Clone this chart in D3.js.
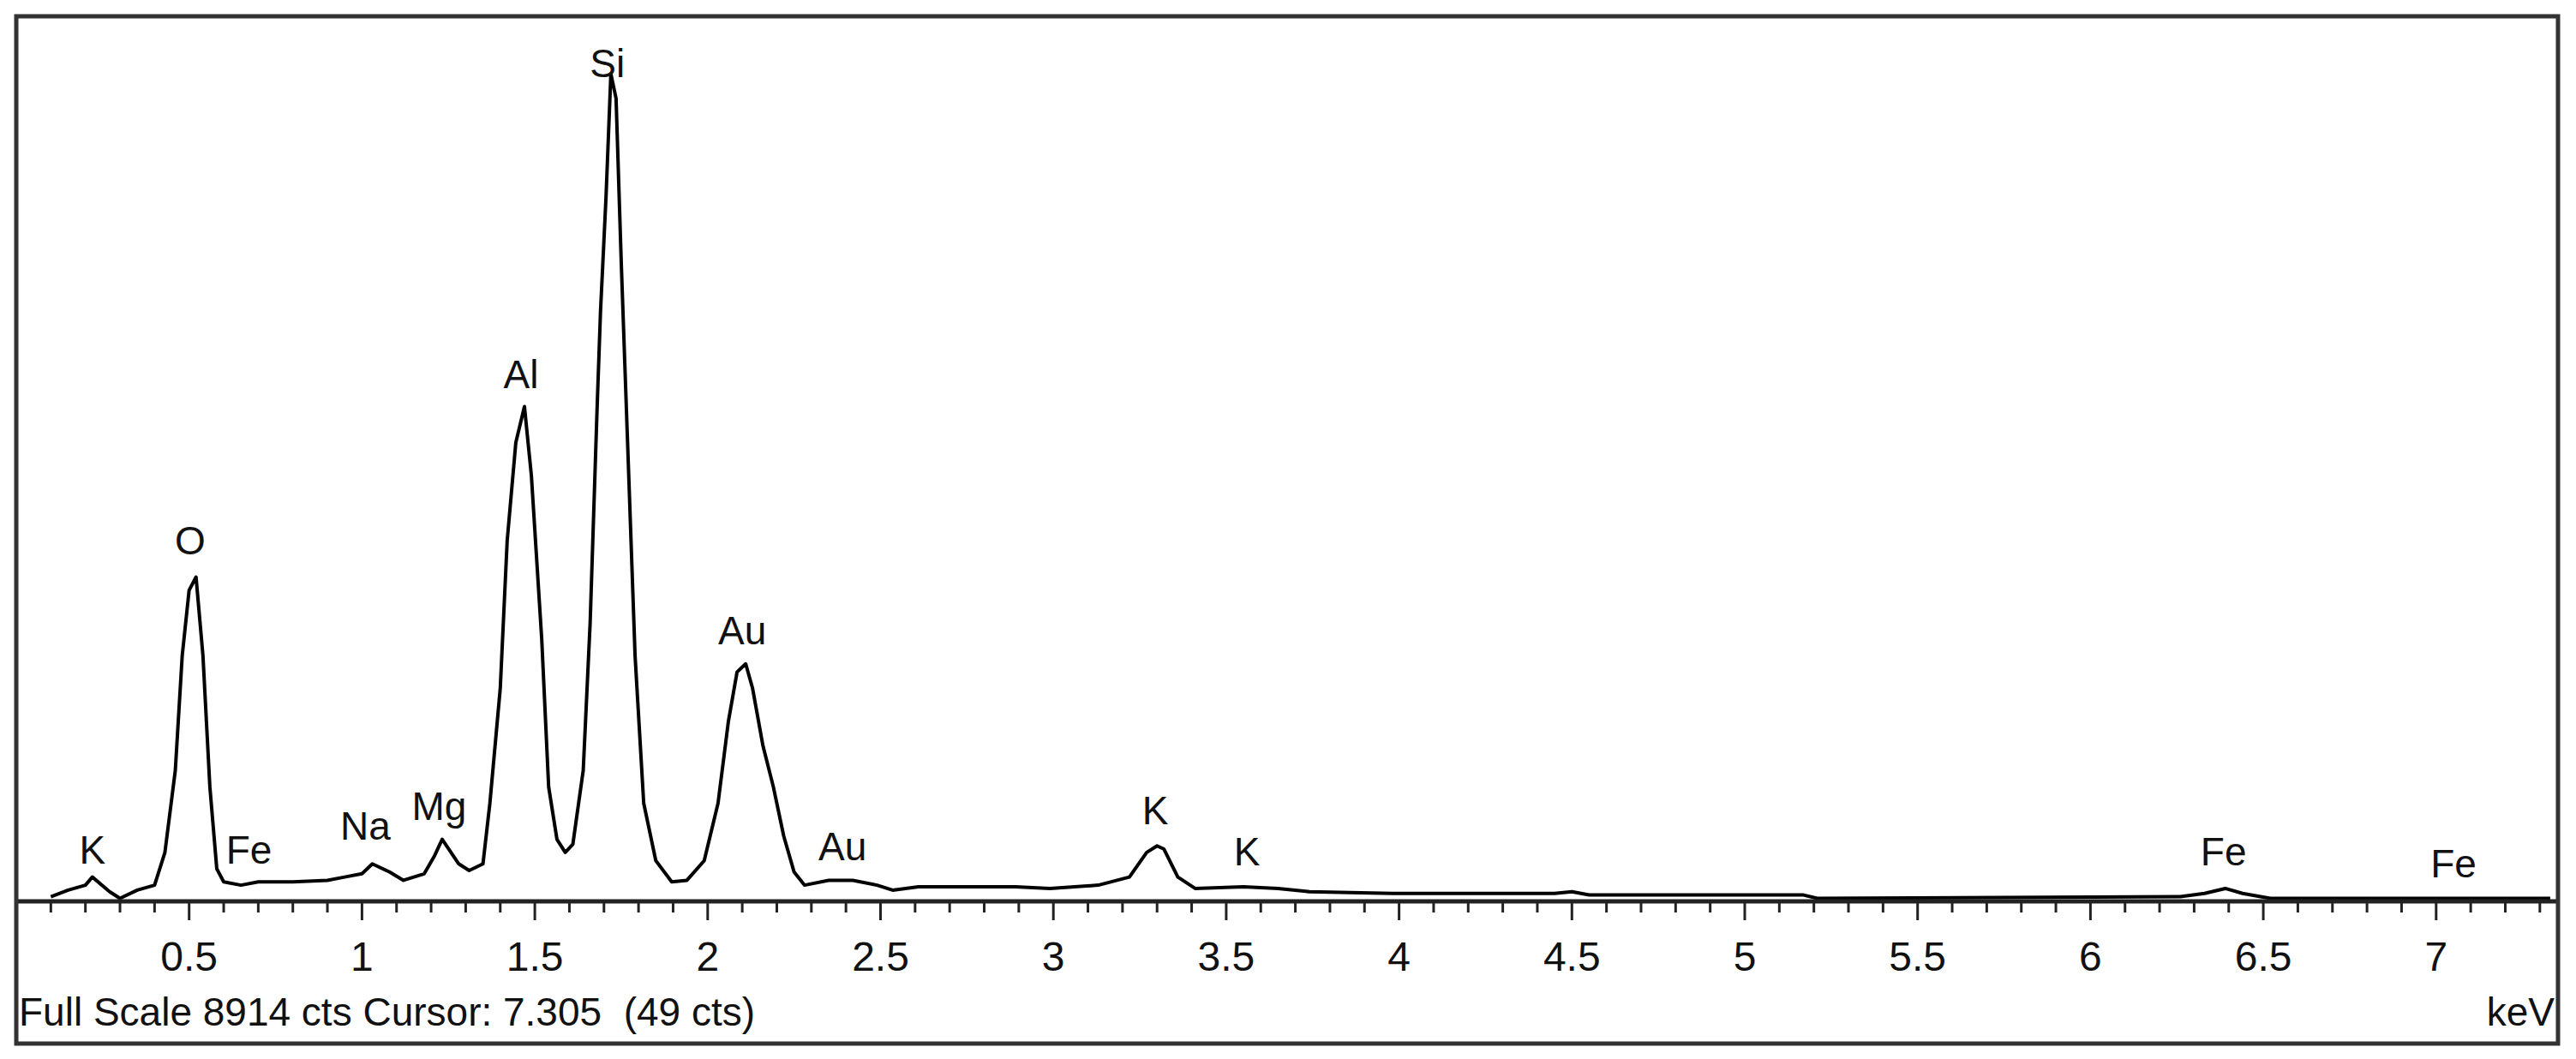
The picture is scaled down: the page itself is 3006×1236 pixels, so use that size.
<!DOCTYPE html>
<html><head><meta charset="utf-8">
<script src="https://cdn.jsdelivr.net/npm/d3@7"></script>
<style>body{margin:0;background:#fff}svg{display:block}text{font-family:"Liberation Sans Narrow","Arial Narrow","Liberation Sans",sans-serif;fill:#111}</style>
</head><body><svg id="c" width="3006" height="1236"></svg>
<script>
const energy = [0.10,0.15,0.20,0.22,0.27,0.30,0.35,0.40,0.43,0.46,0.48,0.50,0.52,0.54,0.56,0.58,0.60,0.65,0.70,0.80,0.90,0.95,1.00,1.03,1.08,1.12,1.18,1.21,1.232,1.28,1.31,1.35,1.37,1.40,1.42,1.445,1.47,1.49,1.52,1.54,1.564,1.588,1.61,1.64,1.66,1.68,1.69,1.706,1.72,1.735,1.75,1.77,1.79,1.815,1.85,1.896,1.94,1.99,2.03,2.06,2.085,2.11,2.13,2.16,2.19,2.22,2.25,2.28,2.35,2.42,2.49,2.535,2.61,2.89,2.99,3.13,3.22,3.27,3.30,3.32,3.36,3.41,3.55,3.65,3.74,3.98,4.45,4.50,4.55,5.17,5.21,6.26,6.33,6.39,6.44,6.52,7.33];
const counts = [47,113,163,245,97,30,113,163,493,1318,2474,3134,3266,2474,1153,328,196,163,196,196,212,245,278,377,295,212,278,460,625,377,311,377,988,2144,3630,4620,4984,4290,2639,1153,625,493,575,1318,2804,4950,5941,7097,8335,8087,6436,4455,2474,988,410,196,212,410,988,1814,2309,2392,2144,1566,1153,658,295,163,212,212,163,113,146,146,130,163,245,493,559,526,245,130,146,130,97,80,80,97,64,64,30,47,80,130,80,30,30];
const peakLabels = ["K","O","Fe","Na","Mg","Al","Si","Au","Au","K","K","Fe","Fe"];
const peakEnergy = [0.22,0.503,0.673,1.01,1.223,1.46,1.71,2.10,2.39,3.295,3.56,6.385,7.05];
const peakCounts = [377,3498,377,625,823,5165,8302,2590,410,773,361,361,245];
const majorTicks = [0.5,1,1.5,2,2.5,3,3.5,4,4.5,5,5.5,6,6.5,7];
const fullScale = 8914, cursorE = "7.305", cursorC = 49;

const svg = d3.select("#c");
const L=19,T=19,R=2985,B=1218,base=1052;
const x = d3.scaleLinear().domain([0,(R-L)/403.4]).range([L,R]);
const y = d3.scaleLinear().domain([0,fullScale]).range([base,T]);

svg.append("path").datum(d3.zip(energy,counts))
  .attr("d",d3.line().x(d=>x(d[0])).y(d=>y(d[1])).curve(d3.curveLinear))
  .attr("fill","none").attr("stroke","#000").attr("stroke-width",4).attr("stroke-linejoin","round");

svg.append("line").attr("x1",L).attr("x2",R).attr("y1",base).attr("y2",base).attr("stroke","#222").attr("stroke-width",5);
const minor = d3.range(1,Math.floor(x.domain()[1]*10)+1).map(i=>i/10);
svg.append("g").selectAll("line").data(minor).join("line")
  .attr("x1",d=>x(d)).attr("x2",d=>x(d)).attr("y1",base)
  .attr("y2",d=>Math.abs(d*2-Math.round(d*2))<1e-6?base+22:base+13)
  .attr("stroke","#222").attr("stroke-width",3);
svg.append("g").selectAll("text").data(majorTicks).join("text")
  .attr("x",d=>x(d)).attr("y",1133).attr("text-anchor","middle").attr("font-size",48).text(d=>d);

svg.append("g").selectAll("text").data(peakLabels).join("text")
  .attr("x",(d,i)=>x(peakEnergy[i])).attr("y",(d,i)=>y(peakCounts[i]))
  .attr("text-anchor","middle").attr("font-size",46).text(d=>d);

svg.append("text").attr("x",22).attr("y",1197).attr("font-size",46)
  .text(`Full Scale ${fullScale} cts Cursor: ${cursorE}  (${cursorC} cts)`).attr("xml:space","preserve");
svg.append("text").attr("x",R-4).attr("y",1197).attr("text-anchor","end").attr("font-size",46).text("keV");

svg.append("rect").attr("x",L).attr("y",T).attr("width",R-L).attr("height",B-T)
  .attr("fill","none").attr("stroke","#333").attr("stroke-width",5);
</script></body></html>
